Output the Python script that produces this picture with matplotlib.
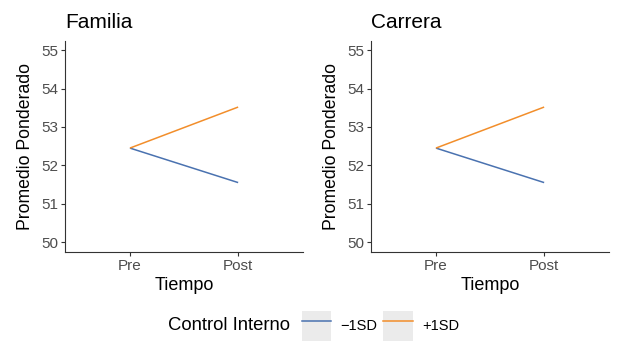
import matplotlib
matplotlib.use("Agg")
import matplotlib.pyplot as plt
from matplotlib.lines import Line2D
from matplotlib.patches import Rectangle
from matplotlib.legend_handler import HandlerTuple

plt.rcParams['font.family'] = ['Liberation Sans', 'DejaVu Sans']

# data
panels = ["Familia", "Carrera"]
tiempo = ["Pre", "Post"]
grupos = ["\u22121SD", "+1SD"]
valores = {
    "Familia": {"\u22121SD": [52.45, 51.55], "+1SD": [52.45, 53.52]},
    "Carrera": {"\u22121SD": [52.45, 51.55], "+1SD": [52.45, 53.52]},
}
colores = {"\u22121SD": "#4A72B0", "+1SD": "#F28E2B"}
yticks = [50, 51, 52, 53, 54, 55]

fig = plt.figure(figsize=(6.2, 3.48), dpi=100)
lefts = [65 / 620, 371 / 620]

for panel, left in zip(panels, lefts):
    ax = fig.add_axes([left, 0.277, 0.384, 0.606])
    x = list(range(1, len(tiempo) + 1))
    for g in grupos:
        ax.plot(x, valores[panel][g], color=colores[g], lw=1.1, solid_capstyle='butt')
    ax.set_xlim(0.4, 2.6)
    ax.set_ylim(49.75, 55.25)
    ax.set_xticks(x)
    ax.set_xticklabels(tiempo)
    ax.set_yticks(yticks)
    ax.tick_params(labelsize=11, labelcolor='#4d4d4d', color='#333333', length=3, width=0.8, pad=2)
    for s in ['top', 'right']:
        ax.spines[s].set_visible(False)
    for s in ['left', 'bottom']:
        ax.spines[s].set_color('#333333')
        ax.spines[s].set_linewidth(0.8)
    ax.set_xlabel("Tiempo", fontsize=13, labelpad=3.5)
    ax.set_ylabel("Promedio Ponderado", fontsize=12.7, labelpad=5)
    ax.set_title(panel, loc='left', fontsize=15, pad=9)

# legend
fig.text(168 / 620, 1 - 326 / 348, "Control Interno", fontsize=13.3, va='center', ha='left')
handles = []
for g in grupos:
    bg = Rectangle((0, 0), 1, 1, facecolor='#ebebeb', edgecolor='none')
    ln = Line2D([], [], color=colores[g], lw=1.1)
    handles.append((bg, ln))
fig.legend(handles, grupos, handler_map={tuple: HandlerTuple(ndivide=1)},
           loc='center left', bbox_to_anchor=(302 / 620, 1 - 326 / 348),
           ncol=2, frameon=False, fontsize=10.5, handlelength=2.0, handleheight=2.7,
           handletextpad=0.65, columnspacing=0.4, borderpad=0, borderaxespad=0)

fig.savefig("out.png", dpi=100)
